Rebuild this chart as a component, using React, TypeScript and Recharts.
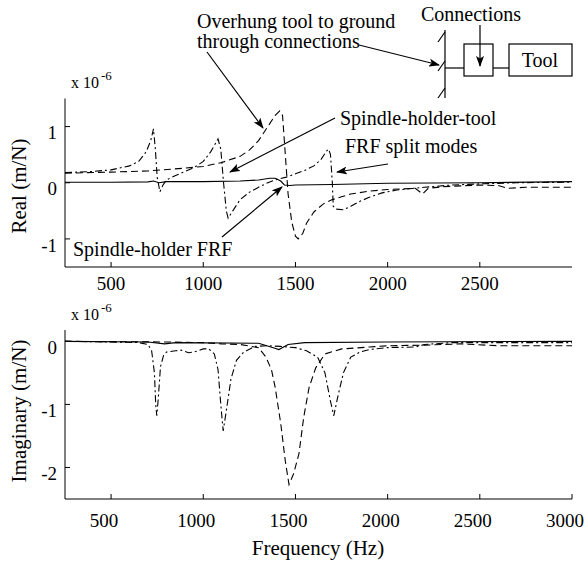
import React from 'react';
import { LineChart, Line, XAxis, YAxis } from 'recharts';

// ---------- data ----------
const freqTicksTop = [500, 1000, 1500, 2000, 2500];
const freqTicksBottom = [500, 1000, 1500, 2000, 2500, 3000];
const realTicks = [-1, 0, 1];
const imagTicks = [-2, -1, 0];

// Real part: [frequency Hz, value x1e-6 m/N]
const realSpindleHolder: [number, number][] = [
  [250, 0.01], [500, 0.01], [700, 0.015], [730, 0.03], [760, 0.0], [800, 0.02],
  [1000, 0.02], [1200, 0.03], [1300, 0.05], [1360, 0.08], [1390, 0.08], [1420, 0.03],
  [1440, -0.04], [1470, -0.05], [1500, -0.04], [1700, -0.03], [2000, -0.01],
  [2500, 0.0], [3000, 0.02],
];
const realSplitModes: [number, number][] = [
  [250, 0.18], [400, 0.2], [500, 0.23], [600, 0.3], [650, 0.38], [690, 0.55],
  [715, 0.75], [730, 0.96], [740, 0.6], [750, 0.1], [765, -0.16], [780, -0.05],
  [800, 0.05], [850, 0.13], [900, 0.2], [950, 0.27], [1000, 0.38], [1040, 0.55],
  [1070, 0.72], [1080, 0.78], [1095, 0.6], [1110, 0.0], [1125, -0.5], [1135, -0.63],
  [1160, -0.5], [1200, -0.3], [1250, -0.17], [1300, -0.08], [1350, 0.0], [1400, 0.06],
  [1450, 0.1], [1500, 0.16], [1550, 0.22], [1600, 0.3], [1640, 0.42], [1670, 0.57],
  [1680, 0.6], [1690, 0.5], [1700, 0.0], [1705, -0.42], [1720, -0.47], [1760, -0.48],
  [1800, -0.42], [1850, -0.33], [1900, -0.26], [1970, -0.18], [2050, -0.13],
  [2200, -0.08], [2350, -0.04], [2500, -0.02], [2700, 0.0], [3000, 0.01],
];
const realOverhung: [number, number][] = [
  [250, 0.17], [500, 0.19], [700, 0.21], [900, 0.26], [1000, 0.29], [1100, 0.36],
  [1200, 0.47], [1250, 0.58], [1300, 0.75], [1350, 1.0], [1390, 1.2], [1415, 1.28],
  [1430, 1.2], [1445, 0.5], [1460, -0.2], [1480, -0.7], [1500, -0.95], [1515, -1.0],
  [1540, -0.9], [1560, -0.72], [1600, -0.52], [1650, -0.38], [1700, -0.3],
  [1750, -0.25], [1800, -0.2], [1900, -0.15], [2000, -0.12], [2150, -0.1],
  [2190, -0.2], [2220, -0.1], [2300, -0.07], [2500, -0.04], [2600, -0.05],
  [2650, -0.1], [2750, -0.08], [3000, -0.08],
];

// Imaginary part
const imagSpindleHolder: [number, number][] = [
  [250, 0.0], [700, -0.01], [790, -0.04], [850, -0.02], [1300, -0.03], [1380, -0.1],
  [1410, -0.13], [1460, -0.05], [1550, -0.02], [2000, -0.01], [3000, 0.0],
];
const imagSplitModes: [number, number][] = [
  [250, 0.0], [500, -0.01], [650, -0.02], [700, -0.05], [720, -0.15], [735, -0.5],
  [742, -1.0], [748, -1.18], [756, -0.9], [768, -0.4], [785, -0.22], [800, -0.17],
  [850, -0.15], [880, -0.14], [920, -0.18], [950, -0.17], [1000, -0.12], [1030, -0.12],
  [1060, -0.2], [1080, -0.45], [1095, -1.0], [1108, -1.42], [1125, -1.1], [1150, -0.6],
  [1180, -0.3], [1220, -0.17], [1280, -0.08], [1350, -0.07], [1420, -0.08],
  [1500, -0.1], [1560, -0.15], [1620, -0.25], [1660, -0.5], [1690, -0.95],
  [1708, -1.18], [1728, -0.9], [1760, -0.5], [1800, -0.25], [1850, -0.17],
  [1900, -0.13], [2000, -0.1], [2150, -0.09], [2200, -0.05], [2350, -0.02],
  [2600, -0.02], [3000, -0.02],
];
const imagOverhung: [number, number][] = [
  [250, 0.0], [800, -0.01], [1000, -0.02], [1100, -0.04], [1200, -0.05], [1300, -0.1],
  [1340, -0.25], [1370, -0.45], [1390, -0.73], [1420, -1.3], [1445, -1.9],
  [1465, -2.27], [1490, -2.1], [1519, -1.78], [1545, -1.2], [1574, -0.73],
  [1610, -0.42], [1660, -0.2], [1750, -0.12], [1900, -0.09], [2000, -0.07],
  [2200, -0.06], [2400, -0.04], [2600, -0.07], [3000, -0.07],
];

// ---------- helpers ----------
const rows = (pts: [number, number][]) => pts.map(([f, v]) => ({ f, v }));
const FONT = "'Liberation Serif', 'Times New Roman', 'DejaVu Serif', serif";
const tickStyle = { fill: '#000', fontSize: 19, fontFamily: FONT };
const DASH = '7 4';
const DASHDOT = '7 3 2 3';

type PanelProps = {
  width: number; height: number; marginTop: number; xHeight: number;
  xTicks: number[]; yTicks: number[]; yDomain: [number, number];
  xTickMargin: number; xDx: number;
  series: { pts: [number, number][]; dash?: string }[];
};

const Panel = (p: PanelProps) => (
  <LineChart width={p.width} height={p.height}
    margin={{ top: p.marginTop, right: 12, bottom: 0, left: 0 }}>
    <XAxis xAxisId="b" dataKey="f" type="number" domain={[250, 3000]} allowDataOverflow
      ticks={p.xTicks} height={p.xHeight} tickSize={-5} tickMargin={p.xTickMargin}
      stroke="#000" tick={{ ...tickStyle, dx: p.xDx }} interval={0} />
    <XAxis xAxisId="t" orientation="top" dataKey="f" type="number" domain={[250, 3000]}
      allowDataOverflow ticks={p.xTicks} height={0} tickSize={-5} stroke="#000"
      tickFormatter={() => ''} interval={0} />
    <YAxis yAxisId="l" type="number" domain={p.yDomain} allowDataOverflow ticks={p.yTicks}
      width={65} tickSize={-5} tickMargin={13} stroke="#000" tick={{ ...tickStyle, dy: 6 }}
      interval={0} />
    <YAxis yAxisId="r" orientation="right" type="number" domain={p.yDomain} allowDataOverflow
      ticks={p.yTicks} width={0} tickSize={-5} stroke="#000" tickFormatter={() => ''}
      interval={0} />
    {p.series.map((s, i) => (
      <Line key={i} xAxisId="b" yAxisId="l" data={rows(s.pts)} dataKey="v" type="linear"
        stroke="#000" strokeWidth={1.1} strokeDasharray={s.dash} dot={false}
        activeDot={false} isAnimationActive={false} />
    ))}
  </LineChart>
);

export default function App() {
  return (
    <div style={{ position: 'fixed', left: 0, top: 0, width: 584, height: 564,
      background: '#fff', overflow: 'hidden' }}>
      <div style={{ position: 'absolute', left: 0, top: 0 }}>
        <Panel width={584} height={300} marginTop={98.5} xHeight={33} xTicks={freqTicksTop}
          yTicks={realTicks} yDomain={[-1.5, 1.5]} xTickMargin={15} xDx={0}
          series={[{ pts: realSpindleHolder }, { pts: realOverhung, dash: DASH },
            { pts: realSplitModes, dash: DASHDOT }]} />
      </div>
      <div style={{ position: 'absolute', left: 0, top: 300 }}>
        <Panel width={584} height={240} marginTop={30} xHeight={41} xTicks={freqTicksBottom}
          yTicks={imagTicks} yDomain={[-2.5, 0.18]} xTickMargin={20} xDx={-7}
          series={[{ pts: imagSpindleHolder }, { pts: imagOverhung, dash: DASH },
            { pts: imagSplitModes, dash: DASHDOT }]} />
      </div>
      <svg width={584} height={564}
        style={{ position: 'absolute', left: 0, top: 0, pointerEvents: 'none' }}>
        <defs>
          <marker id="ah" markerWidth="11" markerHeight="8" refX="10" refY="4" orient="auto"
            markerUnits="userSpaceOnUse">
            <path d="M0,0 L11,4 L0,8 L2.5,4 z" fill="#000" />
          </marker>
        </defs>
        <g fontFamily={FONT} fill="#000">
          <text x={71} y={88} fontSize={16}>x 10</text>
          <text x={101} y={80} fontSize={13}>-6</text>
          <text x={71} y={320} fontSize={16}>x 10</text>
          <text x={101} y={312} fontSize={13}>-6</text>
          <text x={0} y={0} fontSize={21} textAnchor="middle"
            transform="translate(26,186) rotate(-90)">Real (m/N)</text>
          <text x={0} y={0} fontSize={21} textAnchor="middle"
            transform="translate(26,411) rotate(-90)">Imaginary (m/N)</text>
          <text x={318} y={555} fontSize={21} textAnchor="middle">Frequency (Hz)</text>
          <text x={197} y={28} fontSize={20}>Overhung tool to ground</text>
          <text x={197} y={48} fontSize={20}>through connections</text>
          <text x={421} y={21} fontSize={20}>Connections</text>
          <text x={540} y={67} fontSize={20} textAnchor="middle">Tool</text>
          <text x={340} y={125} fontSize={20}>Spindle-holder-tool</text>
          <text x={345} y={153} fontSize={20}>FRF split modes</text>
          <text x={73} y={256} fontSize={20}>Spindle-holder FRF</text>
        </g>
        <g stroke="#000" strokeWidth={1.2} fill="none">
          <line x1={207} y1={52} x2={263} y2={128} markerEnd="url(#ah)" />
          <line x1={359} y1={45} x2={439} y2={65} markerEnd="url(#ah)" />
          <line x1={480} y1={25} x2={480} y2={66} markerEnd="url(#ah)" />
          <line x1={335} y1={118} x2={230} y2={172} markerEnd="url(#ah)" />
          <line x1={388} y1={164} x2={337} y2={172} markerEnd="url(#ah)" />
          <line x1={222} y1={237} x2={282} y2={187} markerEnd="url(#ah)" />
          <line x1={445} y1={30} x2={445} y2={98} />
          <line x1={438} y1={42} x2={445} y2={32} />
          <line x1={438} y1={71} x2={445} y2={61} />
          <line x1={438} y1={98} x2={445} y2={88} />
          <line x1={445} y1={68} x2={464} y2={68} />
          <rect x={464} y={44} width={29} height={32} />
          <line x1={493} y1={68} x2={509} y2={68} />
          <rect x={509} y={44} width={63} height={32} />
        </g>
      </svg>
    </div>
  );
}
